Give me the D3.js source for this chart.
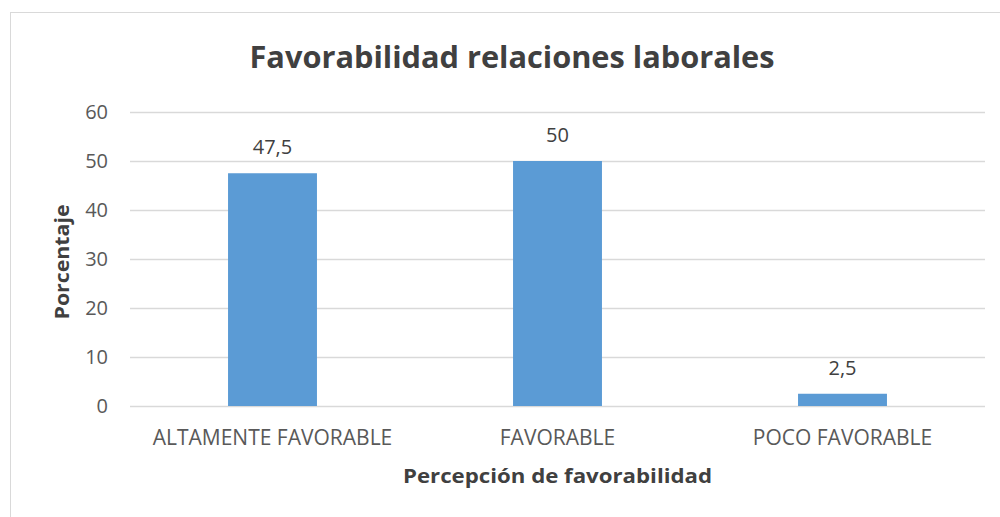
<!DOCTYPE html>
<html>
<head>
<meta charset="utf-8">
<script src="https://cdn.jsdelivr.net/npm/d3@7"></script>
<style>
  body { margin: 0; background: #fff; }
  text { font-family: "Open Sans", "Liberation Sans", sans-serif; }
</style>
</head>
<body>
<svg width="1000" height="517"></svg>
<script>
// chart data
const categories = ["ALTAMENTE FAVORABLE", "FAVORABLE", "POCO FAVORABLE"];
const values = [47.5, 50, 2.5];
const valueLabels = ["47,5", "50", "2,5"];
const yTicks = [0, 10, 20, 30, 40, 50, 60];

let svg = d3.select("svg");

// outer chart frame
svg.append("rect")
    .attr("x", 10.5).attr("y", 12.5)
    .attr("width", 1000).attr("height", 600)
    .attr("fill", "#fff")
    .attr("stroke", "#d9d9d9");

let margin = { left: 130, right: 15, top: 112, bottom: 111 };
let width = 1000 - margin.left - margin.right;
let height = 517 - margin.top - margin.bottom;

let x = d3.scaleBand().domain(categories).range([0, width]).paddingInner(0.688).paddingOuter(0.344);
let y = d3.scaleLinear().domain([0, 60]).range([height, 0]);

let g = svg.append("g").attr("transform", `translate(${margin.left},${margin.top})`);

// gridlines
g.selectAll(".grid").data(yTicks).enter().append("line")
    .attr("x1", 0).attr("x2", width)
    .attr("y1", d => Math.round(y(d)) + 0.5).attr("y2", d => Math.round(y(d)) + 0.5)
    .attr("stroke", "#d9d9d9").attr("stroke-width", 1.3);

// y tick labels
g.selectAll(".ytick").data(yTicks).enter().append("text")
    .attr("x", -22).attr("y", d => y(d)).attr("dy", "0.35em")
    .attr("text-anchor", "end")
    .attr("font-size", 20).attr("fill", "#595959")
    .text(d => d);

// bars
g.selectAll(".bar").data(values).enter().append("rect")
    .attr("x", (d, i) => x(categories[i]))
    .attr("width", x.bandwidth())
    .attr("y", d => y(d))
    .attr("height", d => height - y(d))
    .attr("fill", "#5b9bd5");

// value labels
g.selectAll(".vlabel").data(values).enter().append("text")
    .attr("x", (d, i) => x(categories[i]) + x.bandwidth() / 2)
    .attr("y", d => y(d) - 19)
    .attr("text-anchor", "middle")
    .attr("font-size", 20).attr("fill", "#404040")
    .text((d, i) => valueLabels[i]);

// category labels
g.selectAll(".xlabel").data(categories).enter().append("text")
    .attr("x", d => x(d) + x.bandwidth() / 2)
    .attr("y", height + 39)
    .attr("text-anchor", "middle")
    .attr("font-size", 21).attr("fill", "#595959")
    .text(d => d);

// title
svg.append("text")
    .attr("x", 512).attr("y", 68)
    .attr("text-anchor", "middle")
    .attr("font-size", 30).attr("font-weight", "bold").attr("fill", "#404040")
    .attr("textLength", 525).attr("lengthAdjust", "spacingAndGlyphs")
    .text("Favorabilidad relaciones laborales");

// axis titles
svg.append("text")
    .attr("x", 557.5).attr("y", 483)
    .attr("text-anchor", "middle")
    .attr("font-size", 20).attr("font-weight", "bold").attr("fill", "#404040")
    .attr("textLength", 309).attr("lengthAdjust", "spacingAndGlyphs")
    .text("Percepción de favorabilidad");

svg.append("text")
    .attr("transform", "translate(69,262) rotate(-90)")
    .attr("text-anchor", "middle")
    .attr("font-size", 20).attr("font-weight", "bold").attr("fill", "#404040")
    .attr("textLength", 115).attr("lengthAdjust", "spacingAndGlyphs")
    .text("Porcentaje");
</script>
</body>
</html>
